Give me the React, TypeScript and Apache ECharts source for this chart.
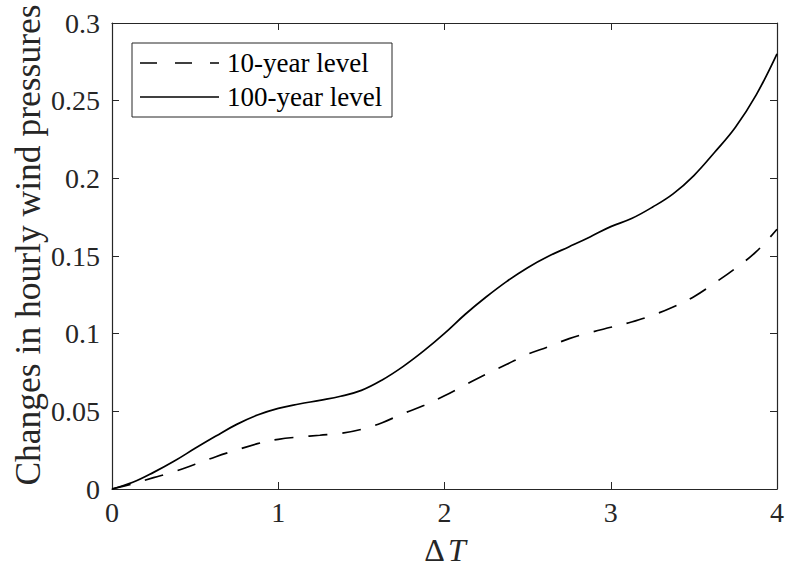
import React, { useEffect, useRef } from "react";
import * as echarts from "echarts";

// Temperature increase ΔT sampled along the curves
const deltaT = [
  0, 0.125, 0.25, 0.375, 0.5, 0.625, 0.75, 0.875, 1,
  1.125, 1.25, 1.375, 1.5, 1.625, 1.75, 1.875, 2,
  2.125, 2.25, 2.375, 2.5, 2.625, 2.75, 2.875, 3,
  3.125, 3.25, 3.375, 3.5, 3.625, 3.75, 3.875, 4,
];
// Change in hourly wind pressure, 10-year return level
const level10 = [
  0, 0.0034, 0.0073, 0.0112, 0.0159, 0.0208, 0.0251, 0.0292, 0.032,
  0.0335, 0.0346, 0.0358, 0.0384, 0.0427, 0.0485, 0.0537, 0.06,
  0.067, 0.0739, 0.0803, 0.0867, 0.0916, 0.0968, 0.1007, 0.1041,
  0.1075, 0.1118, 0.1172, 0.1238, 0.1326, 0.1421, 0.1528, 0.1672,
];
// Change in hourly wind pressure, 100-year return level
const level100 = [
  0, 0.0043, 0.0107, 0.018, 0.0262, 0.0341, 0.0416, 0.0476, 0.0519,
  0.0547, 0.0571, 0.0597, 0.0635, 0.0702, 0.0788, 0.0889, 0.1002,
  0.1125, 0.1236, 0.1337, 0.1425, 0.1498, 0.156, 0.1623, 0.1689,
  0.1741, 0.1814, 0.19, 0.2018, 0.2168, 0.2329, 0.2537, 0.2801,
];

const seriesNames = ["10-year level", "100-year level"];
const yLabel = "Changes in hourly wind pressures";

const FONT = "Liberation Serif";
const AXIS_COLOR = "#262626";

export default function App() {
  const ref = useRef<HTMLDivElement>(null);

  useEffect(() => {
    if (!ref.current) return;
    const chart = echarts.init(ref.current, undefined, { renderer: "svg" });

    const tickStyle = { show: true, inside: true, length: 7, lineStyle: { color: AXIS_COLOR, width: 1 } };
    const lineStyle = { show: true, lineStyle: { color: AXIS_COLOR, width: 1.2 } };

    const xBase = { type: "value" as const, min: 0, max: 4, interval: 1, splitLine: { show: false } };
    const yBase = { type: "value" as const, min: 0, max: 0.3, interval: 0.05, splitLine: { show: false } };

    const textStyle = (size: number, extra: Record<string, unknown> = {}) => ({
      fontFamily: FONT,
      fontSize: size,
      fill: "#000000",
      ...extra,
    });

    chart.setOption({
      animation: false,
      backgroundColor: "#ffffff",
      grid: { left: 112, right: 10, top: 23, bottom: 87, containLabel: false },
      xAxis: [
        {
          ...xBase,
          position: "bottom",
          axisLine: { ...lineStyle, onZero: false },
          axisTick: tickStyle,
          axisLabel: { color: AXIS_COLOR, fontFamily: FONT, fontSize: 28, margin: 9 },
        },
        {
          ...xBase,
          position: "top",
          axisLine: { ...lineStyle, onZero: false },
          axisTick: tickStyle,
          axisLabel: { show: false },
        },
      ],
      yAxis: [
        {
          ...yBase,
          position: "left",
          axisLine: { ...lineStyle, onZero: false },
          axisTick: tickStyle,
          axisLabel: { color: AXIS_COLOR, fontFamily: FONT, fontSize: 28, margin: 12 },
        },
        {
          ...yBase,
          position: "right",
          axisLine: { ...lineStyle, onZero: false },
          axisTick: tickStyle,
          axisLabel: { show: false },
        },
      ],
      series: [
        {
          name: seriesNames[0],
          type: "line",
          xAxisIndex: 0,
          yAxisIndex: 0,
          data: deltaT.map((t, i) => [t, level10[i]]),
          smooth: 0.4,
          symbol: "none",
          lineStyle: { color: "#000000", width: 1.7, type: [19, 15] },
        },
        {
          name: seriesNames[1],
          type: "line",
          xAxisIndex: 0,
          yAxisIndex: 0,
          data: deltaT.map((t, i) => [t, level100[i]]),
          smooth: 0.4,
          symbol: "none",
          lineStyle: { color: "#000000", width: 1.7, type: "solid" },
        },
      ],
      graphic: [
        // legend box
        {
          type: "rect",
          shape: { x: 132, y: 43, width: 260, height: 74 },
          style: { fill: "#ffffff", stroke: AXIS_COLOR, lineWidth: 1 },
          z: 10,
        },
        {
          type: "line",
          shape: { x1: 140, y1: 63, x2: 219, y2: 63 },
          style: { stroke: "#000000", lineWidth: 1.7, lineDash: [17, 18] },
          z: 11,
        },
        {
          type: "text",
          x: 227,
          y: 63,
          style: { text: seriesNames[0], ...textStyle(27), align: "left", verticalAlign: "middle" },
          z: 11,
        },
        {
          type: "line",
          shape: { x1: 140, y1: 97, x2: 219, y2: 97 },
          style: { stroke: "#000000", lineWidth: 1.7 },
          z: 11,
        },
        {
          type: "text",
          x: 227,
          y: 97,
          style: { text: seriesNames[1], ...textStyle(27), align: "left", verticalAlign: "middle" },
          z: 11,
        },
        // axis titles
        {
          type: "text",
          x: 28,
          y: 245,
          rotation: Math.PI / 2,
          style: { text: yLabel, ...textStyle(35.5, { fill: AXIS_COLOR }), align: "center", verticalAlign: "middle" },
        },
        {
          type: "text",
          x: 445,
          y: 550,
          style: {
            text: "{a|Δ} {b|T}",
            fill: AXIS_COLOR,
            align: "center",
            verticalAlign: "middle",
            rich: {
              a: { fontFamily: FONT, fontSize: 32, fill: AXIS_COLOR },
              b: { fontFamily: FONT, fontSize: 32, fontStyle: "italic", fill: AXIS_COLOR },
            },
          },
        },
      ],
    });

    return () => chart.dispose();
  }, []);

  return <div ref={ref} style={{ width: 787, height: 576, position: "absolute", left: 0, top: 0 }} />;
}
